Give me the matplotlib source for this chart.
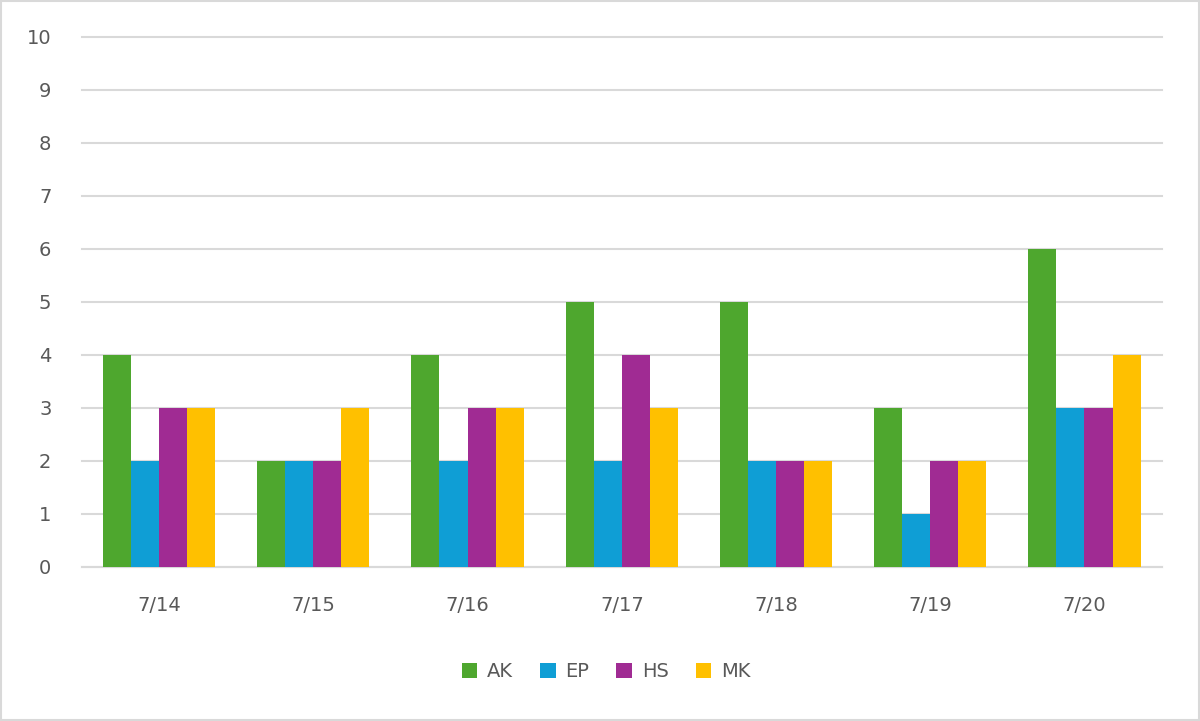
import numpy as np
import matplotlib.pyplot as plt
from matplotlib.patches import Rectangle

# Chart data
dates = ['7/14', '7/15', '7/16', '7/17', '7/18', '7/19', '7/20']
ak = [4, 2, 4, 5, 5, 3, 6]
ep = [2, 2, 2, 2, 2, 1, 3]
hs = [3, 2, 3, 4, 2, 2, 3]
mk = [3, 3, 3, 3, 2, 2, 4]

series_names = ['AK', 'EP', 'HS', 'MK']
series_colors = ['#4EA72E', '#0F9ED5', '#A02B93', '#FFC000']

fig = plt.figure(figsize=(12, 7.21), dpi=100)
ax = fig.add_axes([0.0683, 0.2136, 0.8997, 0.7351])

x = np.arange(len(dates))
bar_w = 0.182
for i, (vals, name, col) in enumerate(zip([ak, ep, hs, mk], series_names, series_colors)):
    ax.bar(x + (i - 1.5) * bar_w, vals, width=bar_w, color=col, label=name, zorder=3)

ax.set_xlim(-0.5, len(dates) - 0.5)
ax.set_ylim(0, 10)
ax.set_yticks(range(0, 11))
ax.set_xticks(x)
ax.set_xticklabels(dates)
ax.yaxis.grid(True, color='#D9D9D9', linewidth=1.5, zorder=0)
for gl in ax.yaxis.get_gridlines():
    gl.set_clip_on(False)
for s in ['top', 'right', 'left']:
    ax.spines[s].set_visible(False)
ax.spines['bottom'].set_color('#D9D9D9')
ax.spines['bottom'].set_linewidth(1.5)
ax.tick_params(axis='both', length=0, labelsize=14, labelcolor='#595959')
ax.tick_params(axis='y', pad=22)
ax.tick_params(axis='x', pad=21)

fig.legend(loc='center', bbox_to_anchor=(0.505, 0.068), ncol=4, frameon=False,
           fontsize=14, handlelength=0.8, handleheight=0.8, handletextpad=0.5,
           columnspacing=1.4, labelcolor='#595959')

fig.patches.append(Rectangle((0.001, 0.001), 0.998, 0.997, transform=fig.transFigure,
                             fill=False, edgecolor='#D9D9D9', linewidth=1.5))

fig.savefig('out.png', dpi=100, facecolor='white')
